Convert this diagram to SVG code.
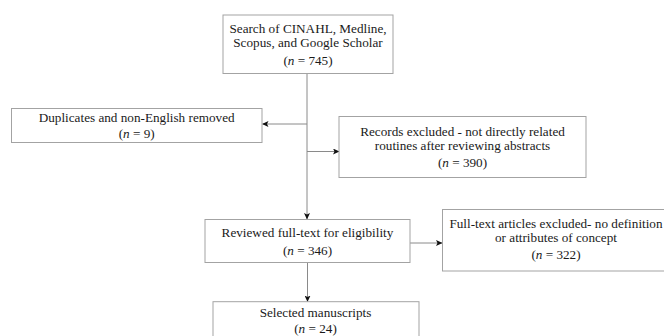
<svg xmlns="http://www.w3.org/2000/svg" width="664" height="336" viewBox="0 0 664 336">
  <style>
    .box { fill: #ffffff; stroke: #a3a3a3; stroke-width: 1; }
    .lbl { font-family: "Liberation Serif", "Times New Roman", serif; font-size: 13.2px; fill: #1a1a1a; text-anchor: middle; }
    .it { font-style: italic; }
    .conn { fill: none; stroke: #8a8a8a; stroke-width: 1; }
  </style>
  <defs>
    <marker id="ah" markerWidth="7" markerHeight="6" refX="6" refY="3" orient="auto" markerUnits="userSpaceOnUse">
      <path d="M0,0 L6.5,3 L0,6 L1.5,3 z" fill="#111"/>
    </marker>
  </defs>
  <rect width="664" height="336" fill="#ffffff"/>

  <g id="connectors">
    <path class="conn" d="M307,73.5 L307,219" marker-end="url(#ah)"/>
    <path class="conn" d="M307,124 L262.5,124" marker-end="url(#ah)"/>
    <path class="conn" d="M307,151.5 L339,151.5" marker-end="url(#ah)"/>
    <path class="conn" d="M410,243 L442,243" marker-end="url(#ah)"/>
    <path class="conn" d="M307.5,262.5 L307.5,301.5" marker-end="url(#ah)"/>
  </g>

  <g id="search">
    <rect class="box" x="223" y="15" width="170" height="58.5"/>
    <text class="lbl" x="308" y="32.6">Search of CINAHL, Medline,</text>
    <text class="lbl" x="308" y="46.9">Scopus, and Google Scholar</text>
    <text class="lbl" x="308" y="65">(<tspan class="it">n</tspan> = 745)</text>
  </g>

  <g id="duplicates">
    <rect class="box" x="11.5" y="108.5" width="250.5" height="34"/>
    <text class="lbl" x="136.7" y="121.7">Duplicates and non-English removed</text>
    <text class="lbl" x="136.7" y="137.5">(<tspan class="it">n</tspan> = 9)</text>
  </g>

  <g id="records">
    <rect class="box" x="339" y="116.5" width="247" height="61"/>
    <text class="lbl" x="462.5" y="135.5">Records excluded - not directly related</text>
    <text class="lbl" x="462.5" y="149.8">routines after reviewing abstracts</text>
    <text class="lbl" x="462.5" y="166.7">(<tspan class="it">n</tspan> = 390)</text>
  </g>

  <g id="reviewed">
    <rect class="box" x="205" y="219.5" width="205" height="43"/>
    <text class="lbl" x="307.5" y="236.7">Reviewed full-text for eligibility</text>
    <text class="lbl" x="307.5" y="255">(<tspan class="it">n</tspan> = 346)</text>
  </g>

  <g id="fulltext">
    <rect class="box" x="442.5" y="209.5" width="228" height="61.5"/>
    <text class="lbl" x="556" y="227.5">Full-text articles excluded- no definition</text>
    <text class="lbl" x="556" y="241.8">or attributes of concept</text>
    <text class="lbl" x="556" y="259">(<tspan class="it">n</tspan> = 322)</text>
  </g>

  <g id="selected">
    <rect class="box" x="213" y="301.7" width="206" height="40"/>
    <text class="lbl" x="315.5" y="316.5">Selected manuscripts</text>
    <text class="lbl" x="315.5" y="333">(<tspan class="it">n</tspan> = 24)</text>
  </g>
</svg>
